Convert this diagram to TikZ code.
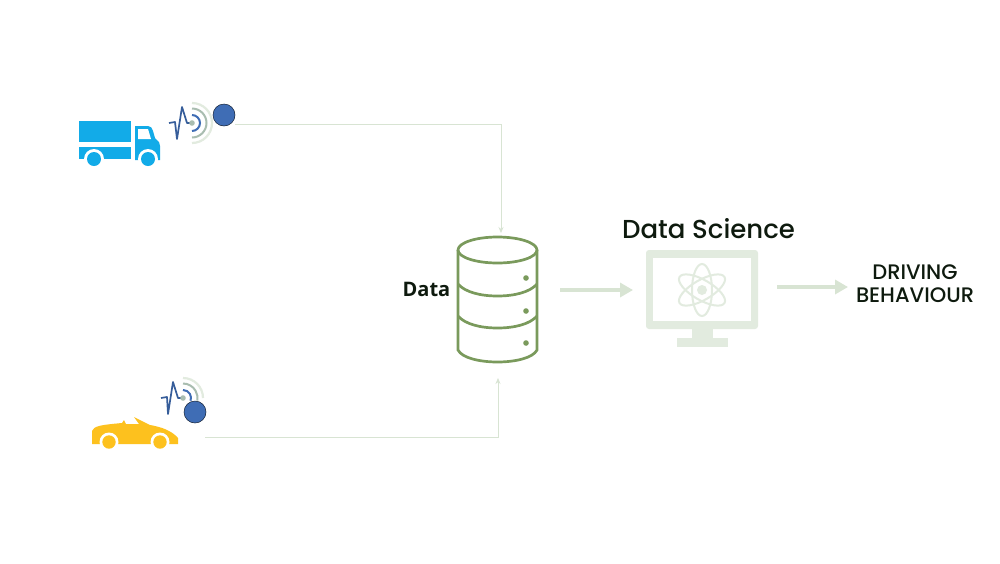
\documentclass[tikz,border=0pt]{standalone}
\usepackage{fontspec}
\setmainfont{Poppins Medium}
\newfontfamily\datafont{Open Sans}
\usetikzlibrary{positioning,arrows.meta}
\definecolor{truckblue}{HTML}{12ABE8}
\definecolor{caryellow}{HTML}{FDC11E}
\definecolor{dotblue}{HTML}{3F6DB5}
\definecolor{storegreen}{HTML}{7A9A5C}
\definecolor{palegreen}{HTML}{E2EBDF}
\definecolor{linegreen}{HTML}{D8E4D3}
\definecolor{arcgrey}{HTML}{A9BDB0}
\definecolor{inkdark}{HTML}{0E1A0E}
\tikzset{
    sensordot/.style={circle, fill = dotblue, draw = black!70!dotblue, line width = 0.5pt, inner sep = 0pt, minimum size = 22pt},
    thinline/.style={draw = linegreen, line width = 0.7pt, -{Stealth[length=6pt,width=5pt]}},
    fatarrow/.style={draw = linegreen, line width = 4.5pt, -{Triangle[length=13pt,width=14pt]}},
    storeline/.style={draw = storegreen, line width = 2.7pt},
    atomline/.style={draw = palegreen, line width = 2pt},
    waveline/.style={draw = dotblue!85!black, line width = 1.7pt, line join = round},
    label/.style={text = inkdark, inner sep = 0pt, align = center}
}
\begin{document}
\begin{tikzpicture}[x=1pt,y=-1pt]
        \useasboundingbox (0,0) rectangle (1000,563);
        \fill[white] (0,0) rectangle (1000,563);

        % Truck
        \fill[truckblue] (79,121) rectangle (131,142);
        \fill[truckblue] (79,147) rectangle (131,159);
        \fill[truckblue] (135,126) -- (148,126) .. controls (151,126) and (152,128) .. (153,131) -- (155,138) -- (159,142) -- (160,146) -- (160,160) -- (135,160) -- cycle;
        \fill[white] (138,129) -- (148,129) -- (151,139) -- (138,139) -- cycle;
        \fill[white] (94,159) circle (10);
        \fill[white] (148,159) circle (10);
        \fill[truckblue] (94,159) circle (7);
        \fill[truckblue] (148,159) circle (7);

        % Truck signal
        \draw[waveline] (169,123) -- (175,122) -- (177,139) -- (182,107) -- (187,123) -- (192,123);
        \draw[dotblue, line width = 2pt] (192,115) arc (-90:90:8);
        \draw[arcgrey, line width = 2pt] (192,108.5) arc (-90:90:14.5);
        \draw[palegreen, line width = 2.2pt] (192,103) arc (-90:90:20);
        \fill[arcgrey] (192,123) circle (2.8);
        \node[sensordot] (truckdot) at (224,115) {};

        % Car
        \fill[caryellow] (92,431) .. controls (94,426) and (100,425) .. (122,423) -- (124,420) -- (126,424) -- (139,424) -- (134,417) -- (150,425) .. controls (162,427) and (172,431) .. (178,438) -- (178,444) -- (92,444) -- cycle;
        \fill[white] (109,442) circle (9.5);
        \fill[white] (160,442) circle (9.5);
        \fill[caryellow] (109,442) circle (6.7);
        \fill[caryellow] (160,442) circle (6.7);

        % Car signal
        \draw[waveline] (161,398) -- (167,397) -- (168,414) -- (173,382) -- (178,398) -- (183,398);
        \draw[dotblue, line width = 2pt] (183,390) arc (-90:20:8);
        \draw[arcgrey, line width = 2pt] (183,383.5) arc (-90:10:14.5);
        \draw[palegreen, line width = 2.2pt] (183,378) arc (-90:0:20);
        \fill[arcgrey] (183,398) circle (2.8);
        \node[sensordot] (cardot) at (195,412) {};

        % Data store
        \node[minimum width = 79pt, minimum height = 125pt, inner sep = 0pt] (store) at (497.5,299.5) {};
        \draw[storeline] (497.5,250) ellipse (39.5 and 13);
        \draw[storeline] (458,250) -- (458,350) .. controls (462,358) and (480,362) .. (497.5,362) .. controls (515,362) and (533,358) .. (537,350) -- (537,250);
        \draw[storeline] (458,284) .. controls (465,292) and (480,296) .. (497.5,296) .. controls (515,296) and (530,292) .. (537,284);
        \draw[storeline] (458,316) .. controls (465,324) and (480,328) .. (497.5,328) .. controls (515,328) and (530,324) .. (537,316);
        \fill[storegreen] (526,278) circle (2.8);
        \fill[storegreen] (526,311) circle (2.8);
        \fill[storegreen] (526,343) circle (2.8);
        \node[label, font = \datafont\bfseries\fontsize{20}{20}\selectfont] (datalabel) at (426.5,289) {Data};

        % Monitor
        \node[minimum width = 112pt, minimum height = 79pt, inner sep = 0pt] (screen) at (702,289.5) {};
        \fill[palegreen, rounded corners = 3pt] (646,250) rectangle (758,329);
        \fill[white] (653,258) rectangle (751,321);
        \fill[palegreen] (692,329) rectangle (713,338);
        \fill[palegreen] (677,338) rectangle (728,347);
        \draw[atomline] (702,290) ellipse (10 and 26);
        \draw[atomline, rotate around = {60:(702,290)}] (702,290) ellipse (10 and 26);
        \draw[atomline, rotate around = {-60:(702,290)}] (702,290) ellipse (10 and 26);
        \fill[palegreen] (702,290) circle (5);
        \node[label, font = \fontsize{26}{26}\selectfont] (sciencelabel) at (708.5,229) {Data Science};

        % Result
        \node[label, font = \fontsize{21}{23}\selectfont] (result) at (915,284) {DRIVING\\BEHAVIOUR};

        % Edge
        \coordinate (truckout) at (235,124);
        \coordinate (storetop) at (501,233);
        \coordinate (carout) at (205,437);
        \coordinate (storebase) at (498,378);
        \coordinate (storeout) at (560,290);
        \coordinate (screenin) at (633,290);
        \coordinate (screenout) at (777,287);
        \coordinate (resultin) at (848,287);
        \draw[thinline] (truckout) -| (storetop);
        \draw[thinline] (carout) -| (storebase);
        \draw[fatarrow] (storeout) -- (screenin);
        \draw[fatarrow] (screenout) -- (resultin);
\end{tikzpicture}
\end{document}
